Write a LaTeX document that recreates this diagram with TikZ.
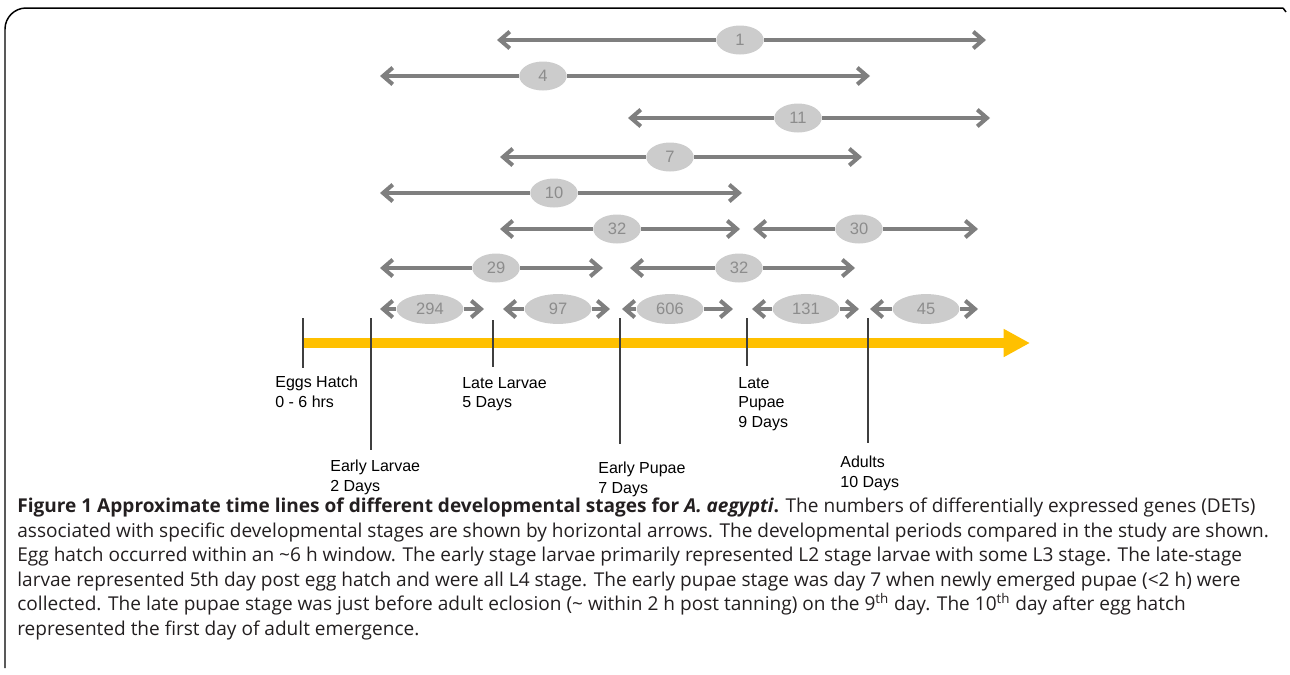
\documentclass[tikz,border=0pt]{standalone}
\usepackage{fontspec}
\setmainfont{Liberation Sans}
\newfontfamily\capfont{Open Sans}
\usepackage{tikz}
\usetikzlibrary{arrows.meta,shapes.geometric}

\definecolor{detgray}{HTML}{7F7F7F}
\definecolor{ovalgray}{HTML}{CCCCCC}
\definecolor{numgray}{HTML}{8C8C8C}
\definecolor{tickgray}{HTML}{3F3F3F}
\definecolor{lifeyellow}{HTML}{FFC000}
\definecolor{captext}{HTML}{231F20}

\tikzset{
  det/.style={draw=detgray, line width=2.3pt, -{Straight Barb[length=5.5pt,width=9.5pt]}},
  count/.style={ellipse, fill=ovalgray, text=numgray, minimum width=27pt, minimum height=16.5pt, inner sep=0pt, font=\fontsize{9.4}{10}\selectfont},
  widecount/.style={count, minimum width=38pt, minimum height=17pt},
  stage/.style={anchor=north west, align=left, inner sep=0pt, font=\fontsize{9.1}{11.1}\selectfont},
  tickline/.style={draw=tickgray, line width=0.85pt},
  lifeline/.style={draw=lifeyellow, line width=5.7pt, -{Triangle[length=15pt,width=15pt]}}
}

\begin{document}
\begin{tikzpicture}[x=0.02cm,y=-0.02cm]
\useasboundingbox (0,0) rectangle (1290,674);
% frame
\draw[line width=0.85pt, rounded corners=12] (1283,8) -- (5,8) -- (5,668);
\draw[line width=0.85pt] (1283,8) -- (1286,12);

% time line with stages
\coordinate (tstart) at (303,343);
\coordinate (tend) at (1030,343);
\draw[lifeline] (tstart) -- (tend);

\coordinate (egg top) at (303,318);  \coordinate (egg bot) at (303,368);
\coordinate (el top) at (371,318);   \coordinate (el bot) at (371,450);
\coordinate (ll top) at (493,320);   \coordinate (ll bot) at (493,367);
\coordinate (ep top) at (620,318);   \coordinate (ep bot) at (620,444);
\coordinate (lp top) at (747,318);   \coordinate (lp bot) at (747,366);
\coordinate (ad top) at (868,318);   \coordinate (ad bot) at (868,443);
\draw[tickline] (egg top) -- (egg bot);
\draw[tickline] (el top) -- (el bot);
\draw[tickline] (ll top) -- (ll bot);
\draw[tickline] (ep top) -- (ep bot);
\draw[tickline] (lp top) -- (lp bot);
\draw[tickline] (ad top) -- (ad bot);

\node[stage] (egg) at (275,376) {Eggs Hatch\\0 - 6 hrs};
\node[stage] (el) at (330,460) {Early Larvae\\2 Days};
\node[stage] (ll) at (462,377) {Late Larvae\\5 Days};
\node[stage] (ep) at (598,462) {Early Pupae\\7 Days};
\node[stage] (lp) at (738,377) {Late\\Pupae\\9 Days};
\node[stage] (ad) at (840,456) {Adults\\10 Days};

% DET arrows
\node[count] (c1) at (740,40) {1};
\coordinate (l1) at (497,40); \coordinate (r1) at (986,40);
\node[count] (c2) at (543,76) {4};
\coordinate (l2) at (380,76); \coordinate (r2) at (870,76);
\node[count] (c3) at (798,118) {11};
\coordinate (l3) at (628,118); \coordinate (r3) at (990,118);
\node[count] (c4) at (670,157) {7};
\coordinate (l4) at (500,157); \coordinate (r4) at (862,157);
\node[count] (c5) at (554,193) {10};
\coordinate (l5) at (380,193); \coordinate (r5) at (742,193);
\node[count] (c6) at (617,229) {32};
\coordinate (l6) at (500,229); \coordinate (r6) at (740,229);
\node[count] (c7) at (859,229) {30};
\coordinate (l7) at (753,229); \coordinate (r7) at (978,229);
\node[count] (c8) at (496,268) {29};
\coordinate (l8) at (380,268); \coordinate (r8) at (603,268);
\node[count] (c9) at (739,268) {32};
\coordinate (l9) at (630,268); \coordinate (r9) at (855,268);

\node[widecount] (c10) at (430,309) {294};
\coordinate (l10) at (380,309); \coordinate (r10) at (484,309);
\node[widecount] (c11) at (558,309) {97};
\coordinate (l11) at (503,309); \coordinate (r11) at (610,309);
\node[widecount] (c12) at (670,309) {606};
\coordinate (l12) at (622,309); \coordinate (r12) at (733,309);
\node[widecount] (c13) at (806,309) {131};
\coordinate (l13) at (752,309); \coordinate (r13) at (859,309);
\node[widecount] (c14) at (926,309) {45};
\coordinate (l14) at (870,309); \coordinate (r14) at (978,309);

\draw[det] (c1) -- (l1);   \draw[det] (c1) -- (r1);
\draw[det] (c2) -- (l2);   \draw[det] (c2) -- (r2);
\draw[det] (c3) -- (l3);   \draw[det] (c3) -- (r3);
\draw[det] (c4) -- (l4);   \draw[det] (c4) -- (r4);
\draw[det] (c5) -- (l5);   \draw[det] (c5) -- (r5);
\draw[det] (c6) -- (l6);   \draw[det] (c6) -- (r6);
\draw[det] (c7) -- (l7);   \draw[det] (c7) -- (r7);
\draw[det] (c8) -- (l8);   \draw[det] (c8) -- (r8);
\draw[det] (c9) -- (l9);   \draw[det] (c9) -- (r9);
\draw[det] (c10) -- (l10); \draw[det] (c10) -- (r10);
\draw[det] (c11) -- (l11); \draw[det] (c11) -- (r11);
\draw[det] (c12) -- (l12); \draw[det] (c12) -- (r12);
\draw[det] (c13) -- (l13); \draw[det] (c13) -- (r13);
\draw[det] (c14) -- (l14); \draw[det] (c14) -- (r14);

% caption
\node[anchor=north west, align=left, inner sep=0pt, text=captext, font=\capfont\fontsize{10.85}{13.9}\selectfont] (caption) at (17,498)
{\textbf{Figure 1 Approximate time lines of different developmental stages for \textit{A. aegypti}.} The numbers of differentially expressed genes (DETs)\\
associated with specific developmental stages are shown by horizontal arrows. The developmental periods compared in the study are shown.\\
Egg hatch occurred within an \textasciitilde6 h window. The early stage larvae primarily represented L2 stage larvae with some L3 stage. The late-stage\\
larvae represented 5th day post egg hatch and were all L4 stage. The early pupae stage was day 7 when newly emerged pupae (<2 h) were\\
collected. The late pupae stage was just before adult eclosion (\textasciitilde{} within 2 h post tanning) on the 9\textsuperscript{th} day. The 10\textsuperscript{th} day after egg hatch\\
represented the first day of adult emergence.};
\end{tikzpicture}
\end{document}
